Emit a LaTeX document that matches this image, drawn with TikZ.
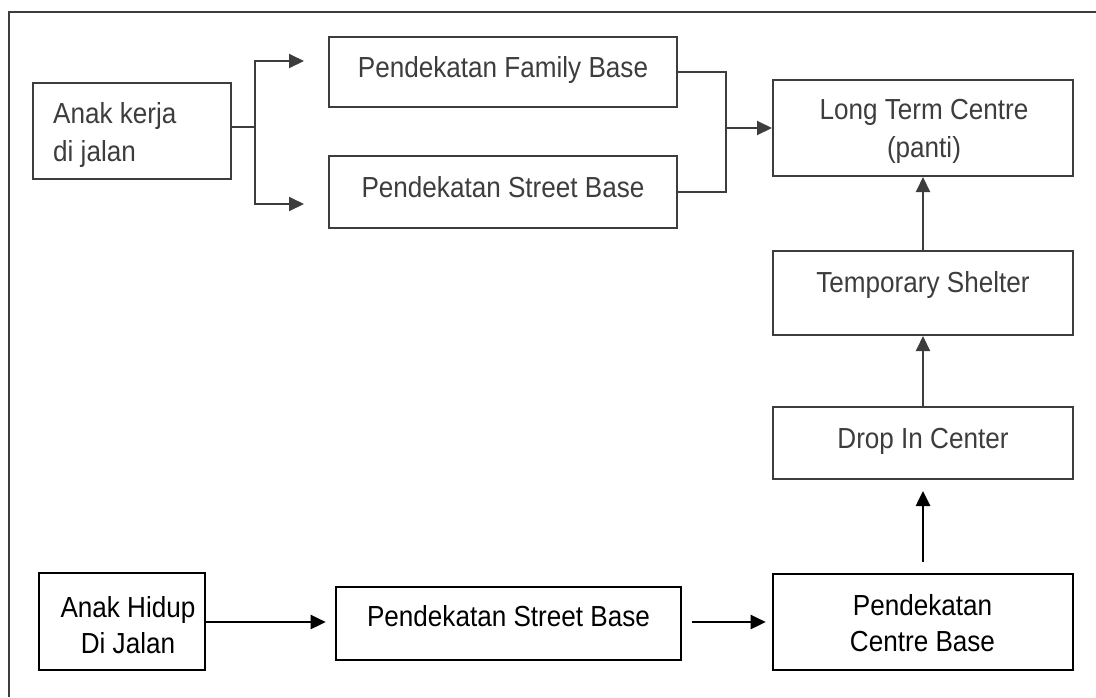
\documentclass[tikz,border=0pt]{standalone}
\usepackage{fontspec}
\setmainfont{Liberation Sans}[FakeStretch=0.9]
\usetikzlibrary{arrows.meta}
\definecolor{topc}{gray}{0.24}
\definecolor{botc}{gray}{0.0}
\tikzset{
  boxT/.style={draw=topc, line width=2pt, inner sep=0pt},
  boxB/.style={draw=botc, line width=2.6pt, inner sep=0pt},
  txtT/.style={inner sep=0pt, text=topc, font=\fontsize{29}{38}\selectfont},
  txtB/.style={inner sep=0pt, text=botc, font=\fontsize{29}{36}\selectfont},
  lnT/.style={draw=topc, line width=2pt},
  lnB/.style={draw=botc, line width=2.6pt},
  arrT/.style={lnT, -{Triangle[length=15pt,width=14pt]}},
  arrB/.style={lnB, -{Triangle[length=15pt,width=14pt]}},
}
\begin{document}
\begin{tikzpicture}[x=1pt,y=-1pt]
\useasboundingbox (0,0) rectangle (1096,697);
% frame
\draw[lnT, line width=1.8pt] (9,697) -- (9,12) -- (1096,12);
% boxes
\node[boxT, minimum width=198pt, minimum height=96pt] (kerja) at (132,131) {};
\node[boxT, minimum width=348pt, minimum height=70pt] (fam) at (503,72) {};
\node[boxT, minimum width=348pt, minimum height=72pt] (st) at (503,192) {};
\node[boxT, minimum width=300pt, minimum height=96pt] (ltc) at (923,128) {};
\node[boxT, minimum width=300pt, minimum height=84pt] (temp) at (923,293) {};
\node[boxT, minimum width=300pt, minimum height=72pt] (drop) at (923,443) {};
\node[boxB, minimum width=300pt, minimum height=96pt] (cb) at (923,622) {};
\node[boxB, minimum width=166pt, minimum height=97pt] (hidup) at (122,621.5) {};
\node[boxB, minimum width=345pt, minimum height=73pt] (sb) at (508.5,623.5) {};
% texts
\node[txtT, anchor=base west] (kerjaT) at (53,123) {\begin{tabular}[t]{@{}l@{}}Anak kerja\\di jalan\end{tabular}};
\node[txtT, anchor=base] (famT) at (503,77) {Pendekatan Family Base};
\node[txtT, anchor=base] (stT) at (503,197) {Pendekatan Street Base};
\node[txtT, anchor=base] (ltcT) at (924,119) {\begin{tabular}[t]{@{}c@{}}Long Term Centre\\(panti)\end{tabular}};
\node[txtT, anchor=base] (tempT) at (923,292) {Temporary Shelter};
\node[txtT, anchor=base] (dropT) at (923,448) {Drop In Center};
\node[txtB, anchor=base] (cbT) at (922.5,615) {\begin{tabular}[t]{@{}c@{}}Pendekatan\\Centre Base\end{tabular}};
\node[txtB, anchor=base] (hidupT) at (128,617) {\begin{tabular}[t]{@{}c@{}}Anak Hidup\\Di Jalan\end{tabular}};
\node[txtB, anchor=base] (sbT) at (508.5,626) {Pendekatan Street Base};
% connectors top
\coordinate (s1) at (255,127);
\coordinate (t1) at (304,61);
\coordinate (t2) at (304,204);
\coordinate (j) at (726,128);
\draw[lnT] (s1 -| kerja.east) -- (s1);
\draw[arrT] (s1) |- (t1);
\draw[arrT] (s1) |- (t2);
\draw[lnT] (fam.east) -| (j) |- (st.east);
\draw[arrT] (j) -- (j -| ltc.west);
\draw[arrT] (temp.north) -- (ltc.south);
\draw[arrT] (drop.north) -- (temp.south);
% connectors bottom
\draw[arrB, shorten <=11pt, shorten >=11pt] (cb.north) -- (drop.south);
\draw[arrB, shorten >=9pt] (hidup.east |- 0,622) -- (sb.west |- 0,622);
\draw[arrB, shorten <=10pt, shorten >=6pt] (sb.east |- 0,622) -- (cb.west |- 0,622);
\end{tikzpicture}
\end{document}
